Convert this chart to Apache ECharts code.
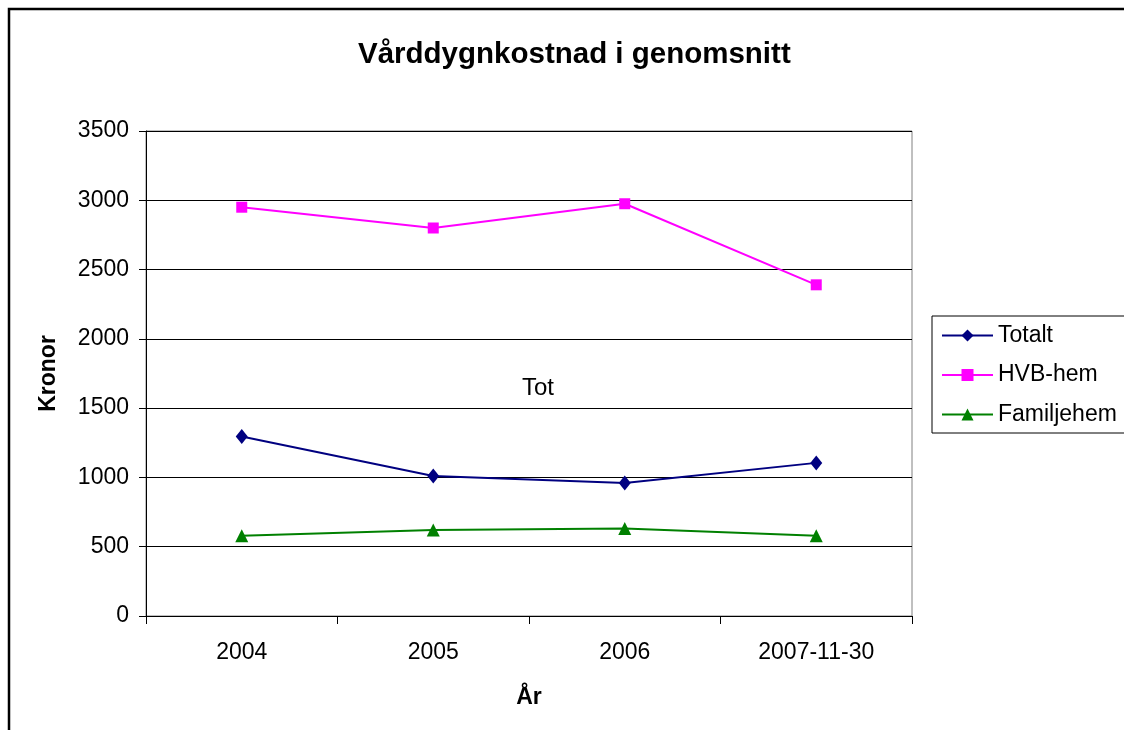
<!DOCTYPE html>
<html>
<head>
<meta charset="utf-8">
<title>Vårddygnkostnad i genomsnitt</title>
<script src="https://cdn.jsdelivr.net/npm/echarts@6/dist/echarts.min.js"></script>
<style>
    html, body { margin: 0; padding: 0; background: #fff; }
    #chart { width: 1124px; height: 730px; }
</style>
</head>
<body>
<div id="chart"></div>
<script>
const years = ['2004', '2005', '2006', '2007-11-30'];
const totalt = [1295, 1010, 960, 1105];
const hvbHem = [2950, 2800, 2975, 2390];
const familjehem = [580, 620, 632, 580];
const yTicks = [0, 500, 1000, 1500, 2000, 2500, 3000, 3500];

const font = 'Arial, "Liberation Sans", sans-serif';
const chart = echarts.init(document.getElementById('chart'));

chart.setOption({
    animation: false,
    backgroundColor: '#fff',
    title: {
        text: 'Vårddygnkostnad i genomsnitt',
        left: 353,
        top: 35,
        textStyle: { fontFamily: font, fontSize: 29.5, fontWeight: 'bold', color: '#000' }
    },
    legend: {
        orient: 'vertical',
        left: 932,
        top: 316,
        padding: [8, 40, 7, 9],
        itemWidth: 51,
        itemHeight: 15,
        itemGap: 16.5,
        borderColor: '#000',
        borderWidth: 1,
        textStyle: { fontFamily: font, fontSize: 23, color: '#000' },
        data: ['Totalt', 'HVB-hem', 'Familjehem']
    },
    grid: {
        left: 146,
        top: 131,
        right: 212,
        bottom: 114,
        show: true,
        borderColor: '#808080',
        borderWidth: 1
    },
    xAxis: {
        type: 'category',
        data: years,
        boundaryGap: true,
        name: 'År',
        nameLocation: 'middle',
        nameGap: 70,
        nameTextStyle: { fontFamily: font, fontSize: 23, fontWeight: 'bold', color: '#000' },
        axisLine: { lineStyle: { color: '#000', width: 1 } },
        axisTick: { show: true, length: 8, lineStyle: { color: '#000' } },
        axisLabel: { fontFamily: font, fontSize: 23, color: '#000', margin: 25 }
    },
    yAxis: {
        type: 'value',
        min: yTicks[0],
        max: yTicks[yTicks.length - 1],
        interval: 500,
        name: 'Kronor',
        nameLocation: 'middle',
        nameGap: 86,
        nameTextStyle: { fontFamily: font, fontSize: 23, fontWeight: 'bold', color: '#000' },
        axisLine: { show: true, lineStyle: { color: '#000', width: 1 } },
        axisTick: { show: true, length: 7, lineStyle: { color: '#000' } },
        axisLabel: {
            fontFamily: font, fontSize: 23, color: '#000', margin: 17,
            formatter: v => String(v)
        },
        splitLine: { show: true, lineStyle: { color: '#000', width: 1 } }
    },
    graphic: [
        {
            type: 'rect',
            shape: { x: 9, y: 9, width: 1200, height: 800 },
            style: { fill: 'none', stroke: '#000', lineWidth: 2.5 },
            silent: true
        },
        {
            type: 'text',
            left: 522,
            top: 376,
            style: { text: 'Tot', fontFamily: font, fontSize: 24, fill: '#000' }
        }
    ],
    series: [
        {
            name: 'Totalt',
            type: 'line',
            data: totalt,
            symbol: 'diamond',
            symbolSize: [12, 15],
            itemStyle: { color: '#000080' },
            lineStyle: { color: '#000080', width: 2 }
        },
        {
            name: 'HVB-hem',
            type: 'line',
            data: hvbHem,
            symbol: 'rect',
            symbolSize: 11,
            itemStyle: { color: '#ff00ff' },
            lineStyle: { color: '#ff00ff', width: 2 }
        },
        {
            name: 'Familjehem',
            type: 'line',
            data: familjehem,
            symbol: 'triangle',
            symbolSize: 13,
            itemStyle: { color: '#008000' },
            lineStyle: { color: '#008000', width: 2 }
        }
    ]
});
</script>
</body>
</html>
